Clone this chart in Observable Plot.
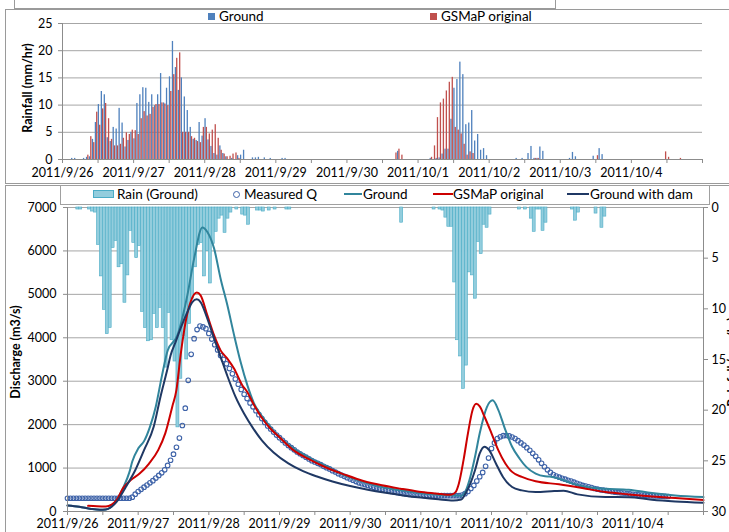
<!DOCTYPE html>
<html>
<head>
<meta charset="utf-8">
<script src="https://cdn.jsdelivr.net/npm/d3@7"></script>
<script src="https://cdn.jsdelivr.net/npm/@observablehq/plot@0.6"></script>
<style>
  html, body { margin: 0; padding: 0; background: #fff; }
  #root { position: relative; width: 729px; height: 532px; overflow: hidden; background: #fff; font-family: Lato, "Open Sans", sans-serif; color: #000; }
  .abs { position: absolute; }
  .frame { position: absolute; border: 1px solid #9a9a9a; box-sizing: border-box; }
  .rot { position: absolute; transform: translate(-50%, -50%) rotate(-90deg); white-space: nowrap; font-weight: bold; font-size: 12.5px; }
  .leg { position: absolute; font-size: 13.5px; line-height: 14px; white-space: nowrap; }
  svg { position: absolute; left: 0; }
</style>
</head>
<body>
<div id="root"></div>
<script>
// ---------- DATA ----------
const dayLabels = ["2011/9/26","2011/9/27","2011/9/28","2011/9/29","2011/9/30","2011/10/1","2011/10/2","2011/10/3","2011/10/4"];

// hourly rainfall (mm/hr), hour 0 = 2011/9/26 00:00, 24 values per day
const groundRain = [
  0,0,0,0.2,0.2,0,0,0.2,0.4,0.5,3.7,6.8,10.1,12.5,11.9,4.0,3.3,5.9,5.6,9.4,6.7,2.3,3.5,5.0,
  3.8,10.3,11.9,13.2,13.1,10.5,11.9,9.9,11.9,15.8,10.4,13.1,15.2,21.7,16.9,12.7,15.0,11.5,9.0,5.9,3.7,3.5,6.8,4.3,
  7.5,3.6,2.4,1.1,0.8,2.5,1.1,0.5,0,0.2,0,0.7,0.8,1.7,0,0,0.3,0.3,0.4,0,0.3,0,0.2,0,
  0,0,0.2,0.2,0,0,0,0,0,0,0,0,0,0,0,0,0,0,0,0,0,0,0,0,
  0,0,0,0,0,0,0,0,0,0,0,0,0,0,0,0,0,1.5,0,0,0,0,0,0,
  0,0,0,0,0.2,0,0.2,0.3,1.0,1.9,1.9,7.4,13.1,14.7,17.9,15.6,6.4,6.7,9.0,3.4,4.6,1.7,2.0,0.7,
  0,0,0,0,0,0,0,0,0,0.2,0,0.2,0,1.1,2.4,0.2,0.2,2.3,1.5,0,0,0,0,0,
  0,0,0,0.2,1.3,0.5,0,0,0,0,0,0.6,0,2.0,0.9,0,0,0,0,0,0,0,0,0,
  0,0,0,0,0,0,0,0,0,0,0,0,0,0,0,0,0,0,0,0,0,0,0,0
];
const gsmapRain = [
  0,0,0,0,0,0,0,0,0.8,4.2,3.1,8.7,6.3,9.3,10.3,7.5,3.7,2.5,2.5,2.8,3.9,4.9,4.6,5.4,
  5.3,4.6,7.5,8.8,8.0,8.3,9.6,10.1,10.1,10.4,10.2,9.9,12.5,15.6,18.6,19.6,5.0,5.0,5.0,4.2,3.9,3.3,3.1,5.9,
  5.9,4.7,5.4,6.4,3.9,1.7,1.0,0.5,0.6,1.0,1.2,0.2,0,0,0,0,0,0,0,0,0,0,0,0,
  0,0,0,0,0,0,0,0,0,0,0,0,0,0,0,0,0,0,0,0,0,0,0,0,
  0,0,0,0,0,0,0,0,0,0,0,0,0,0,0,0,1.2,1.9,0.8,0,0,0,0,0,
  0,0,0,0,0.4,2.5,7.7,10.4,11.1,12.6,14.2,15.1,5.9,5.4,4.7,2.8,0.8,1.4,1.1,0,0,0,0,0,
  0,0,0,0,0,0,0,0,0,0,0,0,0,0,0,0.2,0.2,0,0,0,0,0,0,0,
  0,0,0,0,0,0,0,0,0,0,0,0,0.7,0,0,0,0,0,0,0,0,0,0,0,
  0,0,0,0,0,0,0,0,0,0,0,1.4,0.4,0,0,0,0.2,0,0,0,0,0,0,0
];

// measured discharge (m3/s), hourly from hour 0
const measuredQ = [
  305,305,305,305,305,305,305,305,305,305,305,305,305,305,305,305,305,305,305,305,305,305,
  330,400,460,510,560,610,660,710,770,830,890,960,1060,1180,1320,1480,1690,1980,2380,3020,
  3620,3980,4190,4270,4250,4210,4100,3970,3840,3720,3590,3500,3400,3290,3170,3050,2930,2810,
  2700,2600,2500,2410,2320,2230,2140,2050,1970,1900,1830,1760,1700,1640,1580,1520,1470,1420,
  1370,1330,1290,1250,1210,1170,1140,1110,1080,1040,1010,980,940,910,870,840,810,780,750,720,
  690,660,640,620,600,580,560,540,520,505,490,475,460,450,440,425,415,405,395,390,385,380,
  375,372,370,368,365,365,365,365,365,365,365,365,365,365,380,410,460,530,600,700,800,900,
  1040,1230,1450,1580,1680,1720,1745,1750,1740,1715,1680,1630,1580,1530,1470,1410,1340,1270,
  1190,1110,1030,960,900,850,815,790,765,745,720,700,675,650,625,600,585,570,550,530,515,500,
  490,480,470,455,445,438,430,425,415,405,395,390,385,380,375,370,365,362,358,355,352,348,345
];

// simulated discharge: [hour, m3/s]
const simGround = [[0,140],[4,110],[8,60],[11,40],[13,45],[15,120],[17,300],[19,560],[21,900],[22,1150],[24,1450],[26,1620],[28,1950],[30,2420],[32,3100],[34,3700],[37.3,4055],[40.7,4977],[43,5822],[45.8,6540],[47.5,6436],[49.8,6053],[52,5361],[54.3,4747],[56.6,4055],[58.8,3440],[61.1,2903],[63.3,2497],[65.7,2226],[68.8,1956],[72,1708],[76.7,1453],[81.5,1260],[87.8,1044],[94.1,835],[100.5,680],[106.8,564],[113.1,487],[119.4,425],[125.8,387],[131.3,371],[133.7,365],[135.3,487],[136.8,796],[138.4,1260],[140,1800],[142.4,2400],[144.4,2560],[146.3,2342],[148.7,1878],[151,1492],[153.5,1221],[155.8,1028],[159,873],[162.2,811],[163.7,805],[166.9,757],[171.6,641],[176.4,564],[182.7,525],[190.6,502],[198.5,425],[206.4,371],[216,332]];
const simGsmap = [[7,130],[10,120],[13,116],[15,160],[16.6,255],[19,549],[21.4,719],[24.5,873],[27.7,1105],[30.8,1414],[33.2,1800],[35.6,2420],[37,2800],[38.4,3594],[40.1,4362],[41.8,4823],[43.9,5040],[45.2,4977],[47.5,4516],[49.8,4055],[52,3710],[54.3,3518],[56.6,3288],[59.4,2903],[60.9,2767],[63.3,2458],[65.7,2187],[68.8,1917],[72,1708],[76.7,1414],[81.5,1221],[87.8,1013],[94.1,850],[100.5,703],[106.8,603],[113.1,525],[119.4,456],[125.8,410],[128.9,387],[130.5,394],[131.8,448],[132.9,641],[134.5,1183],[136,1800],[137.6,2342],[138.8,2480],[140,2420],[141.6,2187],[144,1800],[146.3,1414],[148.7,1105],[151,912],[154.3,796],[159,696],[166.9,626],[174.8,541],[182.7,448],[190.6,394],[198.5,348],[206.4,309],[216,263]];
const simDam = [[0,140],[4,110],[8,60],[11,40],[13,45],[15,110],[16.6,216],[19.8,564],[23,950],[26,1414],[29.3,1956],[31.6,2650],[34,3300],[35,3594],[36.7,3900],[38.4,4217],[40.7,4592],[42.4,4823],[43.9,4885],[45.2,4823],[47.5,4440],[49.8,3979],[52,3560],[54.3,3120],[57,2650],[60,2250],[63,1920],[66,1640],[70,1360],[75,1110],[80,930],[85,800],[90,690],[96,585],[102,500],[108,430],[114,370],[120,320],[126,280],[131,255],[133.7,275],[135.3,430],[136.8,641],[138.4,950],[140,1337],[141.6,1492],[143.2,1414],[145.5,1105],[147.9,796],[151,564],[154.3,487],[159,448],[165.3,471],[168.5,480],[173.2,394],[182.7,332],[190.6,330],[198.5,271],[206.4,232],[216,201]];

const rainTicks = [0,5,10,15,20,25,30];
const qTicks = [0,1000,2000,3000,4000,5000,6000,7000];
const topTicks = [0,5,10,15,20,25];

// ---------- BUILD ----------
const root = document.getElementById("root");
const hours = d3.range(216);
const groundRows = hours.map(h => ({h, v: groundRain[h]})).filter(d => d.v > 0);
const gsmapRows = hours.map(h => ({h, v: gsmapRain[h]})).filter(d => d.v > 0);
const measRows = measuredQ.map((q, h) => ({h, q}));
const toRows = arr => arr.map(([h, q]) => ({h, q}));
const xTickFmt = d => (d % 24 === 0 && d / 24 < dayLabels.length) ? dayLabels[d / 24] : "";
const grid = "#a6a6a6";
const axisCol = "#8c8c8c";

function add(html) { root.insertAdjacentHTML("beforeend", html); }

// frames
add(`<div class="frame" style="left:14px;top:-2px;width:542px;height:11px;"></div>`);
add(`<div class="frame" style="left:5px;top:9px;width:740px;height:175px;"></div>`);
add(`<div class="frame" style="left:5px;top:185px;width:740px;height:360px;"></div>`);

// top chart
const topChart = Plot.plot({
  width: 729, height: 185,
  marginLeft: 62, marginRight: 27, marginTop: 23, marginBottom: 26,
  x: {domain: [0, 216]},
  y: {domain: [0, 25]},
  style: {fontFamily: "Lato, sans-serif", fontSize: "12.5px", background: "transparent", color: "#000"},
  marks: [
    Plot.ruleY(topTicks.slice(1), {stroke: grid, strokeWidth: 1}),
    Plot.rect(groundRows, {x1: d => d.h + 0.06, x2: d => d.h + 0.5, y1: 0, y2: "v", fill: "#4F81BD"}),
    Plot.rect(gsmapRows, {x1: d => d.h + 0.5, x2: d => d.h + 0.94, y1: 0, y2: "v", fill: "#C0504D"}),
    Plot.ruleY([0], {stroke: axisCol}),
    Plot.ruleX([0], {stroke: axisCol}),
    Plot.axisY({ticks: topTicks, tickSize: 4, tickPadding: 6, tickFormat: d => String(d), label: null, stroke: axisCol, fill: "#000"}),
    Plot.axisX({ticks: d3.range(0, 217, 12), tickSize: 4, tickPadding: 5, tickFormat: xTickFmt, label: null, stroke: axisCol, fill: "#000"})
  ]
});
topChart.style.top = "0px";
root.appendChild(topChart);

// bottom chart
const rainToQ = r => 7000 - r * 7000 / 30;
const bottomChart = Plot.plot({
  width: 729, height: 347,
  marginLeft: 67, marginRight: 26, marginTop: 22, marginBottom: 21,
  x: {domain: [0, 216]},
  y: {domain: [0, 7000]},
  style: {fontFamily: "Lato, sans-serif", fontSize: "12.5px", background: "transparent", color: "#000"},
  marks: [
    Plot.ruleY(qTicks.slice(1), {stroke: grid, strokeWidth: 1}),
    Plot.rect(groundRows, {x1: "h", x2: d => d.h + 1, y1: 7000, y2: d => rainToQ(d.v), fill: "#93CDDD", stroke: "#4BACC6", strokeWidth: 0.6}),
    Plot.dot(measRows, {x: "h", y: "q", r: 2.3, stroke: "#3D62A8", strokeWidth: 1.1, fill: "none"}),
    Plot.line(toRows(simGround), {x: "h", y: "q", stroke: "#31859C", strokeWidth: 2, curve: "monotone-x"}),
    Plot.line(toRows(simGsmap), {x: "h", y: "q", stroke: "#CC0000", strokeWidth: 2, curve: "monotone-x"}),
    Plot.line(toRows(simDam), {x: "h", y: "q", stroke: "#1F3864", strokeWidth: 2, curve: "monotone-x"}),
    Plot.ruleY([0], {stroke: axisCol}),
    Plot.ruleX([0, 216], {stroke: axisCol}),
    Plot.axisY({ticks: qTicks, tickSize: 4, tickPadding: 7, tickFormat: d => String(d), label: null, stroke: axisCol, fill: "#000"}),
    Plot.axisY({anchor: "right", ticks: rainTicks.map(rainToQ), tickFormat: d => String(Math.round((7000 - d) * 30 / 7000)), tickSize: 4, tickPadding: 4, label: null, stroke: axisCol, fill: "#000"}),
    Plot.axisX({ticks: d3.range(0, 217, 12), tickSize: 4, tickPadding: 4, tickFormat: xTickFmt, label: null, stroke: axisCol, fill: "#000"})
  ]
});
bottomChart.style.top = "185px";
root.appendChild(bottomChart);

// top legend
add(`<div class="abs" style="left:208px;top:13px;width:7px;height:7px;background:#4F81BD"></div>`);
add(`<div class="leg" style="left:219px;top:9px;">Ground</div>`);
add(`<div class="abs" style="left:430px;top:13px;width:7px;height:7px;background:#C0504D"></div>`);
add(`<div class="leg" style="left:441px;top:9px;">GSMaP original</div>`);

// bottom legend
add(`<div class="abs" style="left:60px;top:185px;width:650px;height:20px;border:1px solid #a0a0a0;background:#fff;box-sizing:border-box;"></div>`);
add(`<div class="abs" style="left:93px;top:190px;width:21px;height:8px;background:#93CDDD;border:1px solid #4BACC6;box-sizing:border-box;"></div>`);
add(`<div class="leg" style="left:117px;top:187px;">Rain (Ground)</div>`);
add(`<div class="abs" style="left:233px;top:191px;width:5px;height:5px;border:1.2px solid #3D62A8;border-radius:50%;"></div>`);
add(`<div class="leg" style="left:244px;top:187px;">Measured Q</div>`);
add(`<div class="abs" style="left:344px;top:193px;width:18px;height:2px;background:#31859C;"></div>`);
add(`<div class="leg" style="left:363px;top:187px;">Ground</div>`);
add(`<div class="abs" style="left:433px;top:193px;width:20px;height:2px;background:#CC0000;"></div>`);
add(`<div class="leg" style="left:453px;top:187px;">GSMaP original</div>`);
add(`<div class="abs" style="left:567px;top:193px;width:22px;height:2px;background:#1F3864;"></div>`);
add(`<div class="leg" style="left:590px;top:187px;">Ground with dam</div>`);

// axis titles
add(`<div class="rot" style="left:27px;top:88px;">Rainfall (mm/hr)</div>`);
add(`<div class="rot" style="left:15px;top:352px;">Discharge (m3/s)</div>`);
add(`<div class="rot" style="left:732px;top:362px;">Rainfall (mm/hr)</div>`);
</script>
</body>
</html>
